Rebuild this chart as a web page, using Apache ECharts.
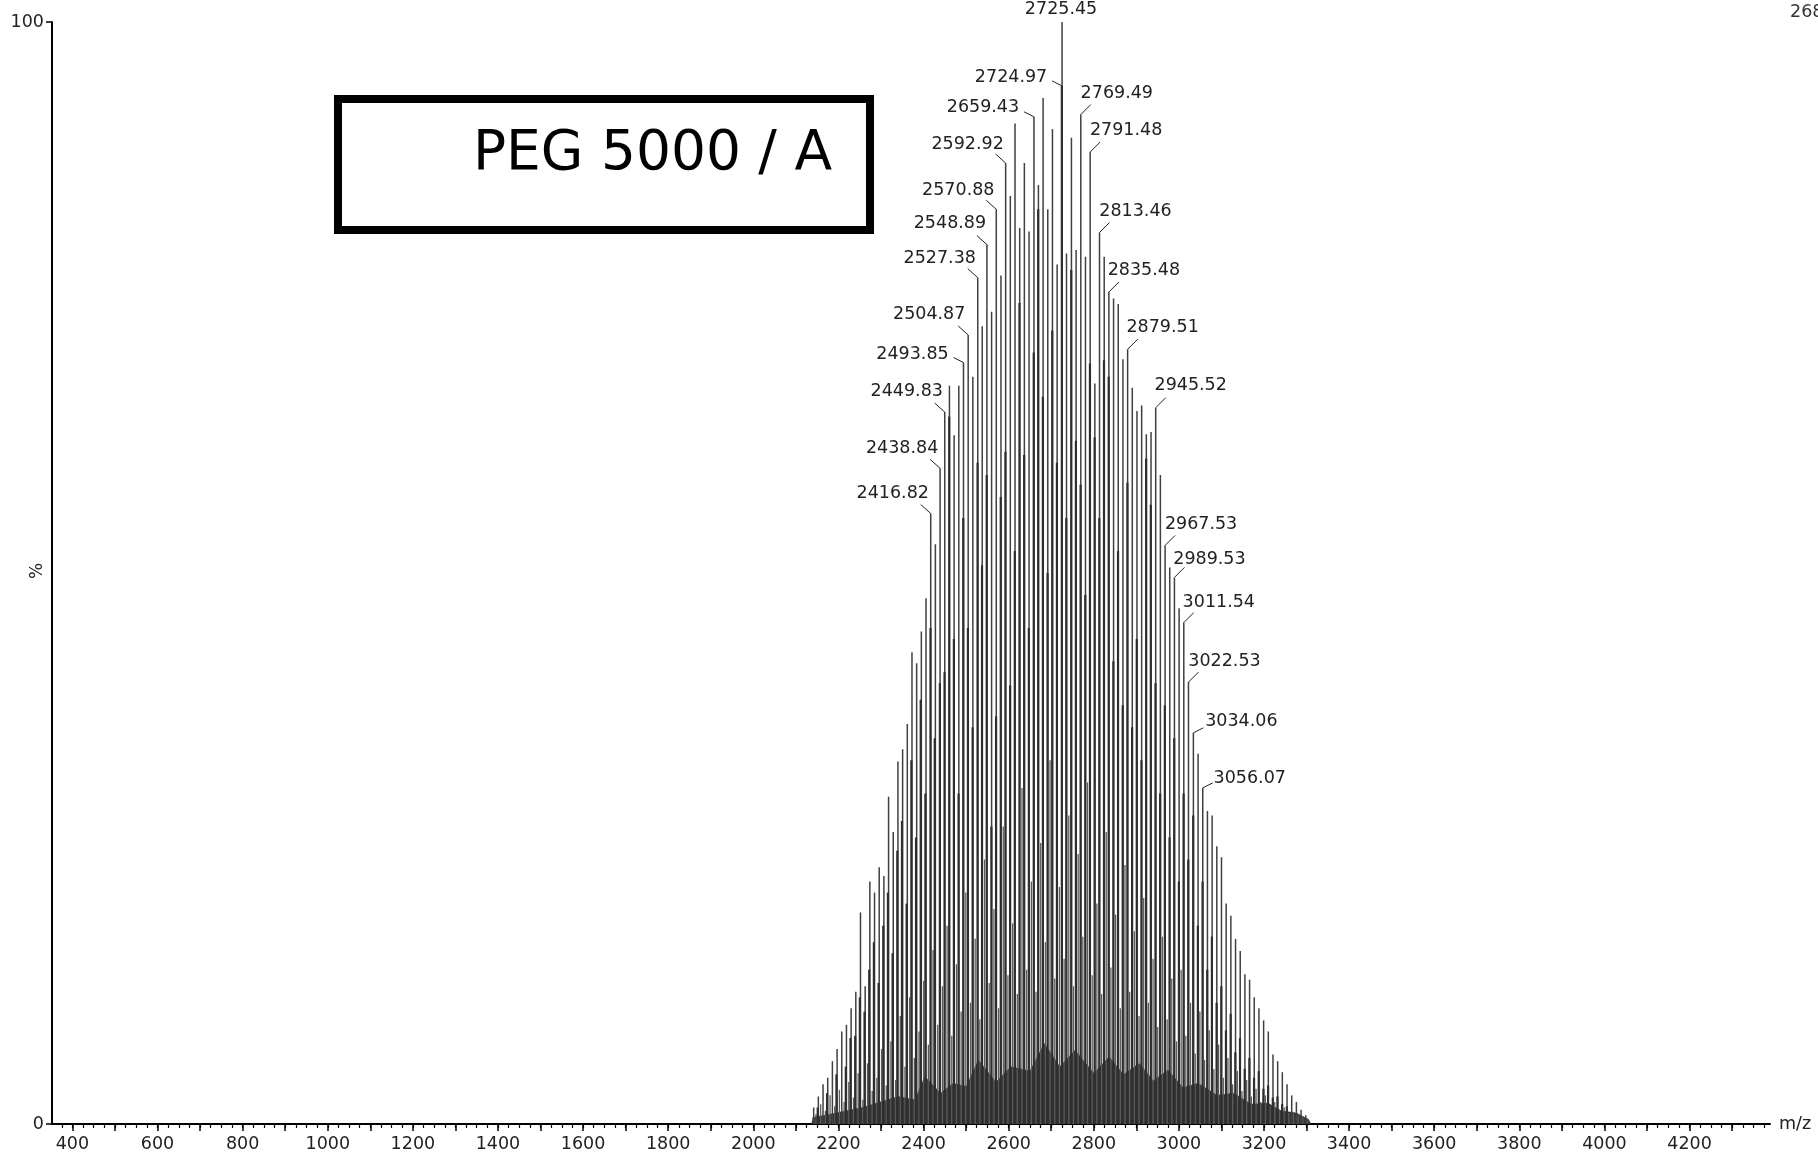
<!DOCTYPE html>
<html>
<head>
<meta charset="utf-8">
<title>PEG 5000 / A</title>
<script src="https://cdn.jsdelivr.net/npm/echarts@6.0.0/dist/echarts.min.js"></script>
<style>
html, body { margin: 0; padding: 0; background: #fff; }
#chart { width: 1818px; height: 1157px; }
</style>
</head>
<body>
<div id="chart"></div>
<script>
// tall peaks, two interleaved series 11 apart
const peakMz = [
  2141.8, 2152.8, 2163.8, 2174.8, 2185.8, 2196.8, 2207.8, 2218.8, 2229.8, 2240.8,
  2251.8, 2262.8, 2273.8, 2284.8, 2295.8, 2306.8, 2317.8, 2328.8, 2339.8, 2350.8,
  2361.8, 2372.8, 2383.8, 2394.8, 2405.8, 2416.82, 2427.8, 2438.84, 2449.83, 2460.85,
  2471.84, 2482.86, 2493.85, 2504.87, 2515.86, 2527.38, 2537.9, 2548.89, 2559.9, 2570.88,
  2581.9, 2592.92, 2603.9, 2614.9, 2625.9, 2636.9, 2647.9, 2659.43, 2669.9, 2680.9,
  2691.9, 2702.9, 2713.9, 2725.45, 2735.9, 2747.5, 2758.5, 2769.49, 2780.5, 2791.48,
  2802.5, 2813.46, 2824.5, 2835.48, 2846.5, 2857.5, 2868.5, 2879.51, 2890.5, 2901.5,
  2912.5, 2923.5, 2934.5, 2945.52, 2956.5, 2967.53, 2978.5, 2989.53, 3000.5, 3011.54,
  3022.53, 3034.06, 3045.1, 3056.07, 3067.1, 3078.1, 3089.1, 3100.1, 3111.1, 3122.1,
  3133.1, 3144.1, 3155.1, 3166.1, 3177.1, 3188.1, 3199.1, 3210.1, 3221.1, 3232.1,
  3243.1, 3254.1, 3265.1, 3276.1, 3287.1, 3298.1
]
const peakPct = [
  1.5, 2.5, 3.6, 4.2, 5.7, 6.8, 8.4, 9.0, 10.5, 12.0,
  19.2, 12.5, 22.0, 21.0, 23.3, 22.5, 29.7, 26.5, 32.9, 34.0,
  36.3, 42.8, 41.8, 44.7, 47.7, 55.4, 52.6, 59.5, 64.6, 67.0,
  62.5, 67.0, 69.1, 71.6, 67.8, 76.8, 72.4, 79.8, 73.7, 83.0,
  77.0, 87.2, 84.2, 90.8, 81.3, 87.2, 81.0, 91.4, 85.2, 93.1,
  83.0, 90.3, 78.0, 100, 79.0, 89.5, 79.3, 91.6, 78.7, 88.2,
  67.2, 80.9, 78.7, 75.5, 74.9, 74.4, 69.4, 70.3, 66.8, 64.7,
  65.2, 62.6, 62.8, 65.0, 58.9, 52.5, 50.5, 49.6, 46.8, 45.5,
  40.1, 35.5, 33.6, 30.5, 28.4, 28.0, 25.2, 24.2, 20.0, 18.9,
  16.8, 15.7, 13.6, 13.1, 11.5, 10.5, 9.4, 8.4, 6.3, 5.7,
  4.7, 3.6, 2.6, 2.0, 1.3, 0.8
]

// partner peaks sitting right beside the tall ones (drawn darker)
const pairMz = [
  2151.3, 2173.3, 2195.3, 2217.3, 2228.3, 2239.3, 2250.3, 2261.3, 2272.3, 2283.3,
  2294.3, 2305.3, 2316.3, 2327.3, 2338.3, 2349.3, 2360.3, 2371.3, 2382.3, 2393.3,
  2404.3, 2416.3, 2426.3, 2438.3, 2449.3, 2460.3, 2471.3, 2482.3, 2493.3, 2504.3,
  2515.3, 2526.9, 2537.4, 2548.4, 2559.4, 2570.4, 2581.4, 2592.4, 2603.4, 2614.4,
  2625.4, 2636.4, 2647.4, 2658.9, 2669.4, 2680.4, 2691.4, 2702.4, 2713.4, 2724.97,
  2735.4, 2747.0, 2758.0, 2769.0, 2780.0, 2791.0, 2802.0, 2813.0, 2824.0, 2835.0,
  2846.0, 2857.0, 2868.0, 2879.0, 2890.0, 2901.0, 2912.0, 2923.0, 2934.0, 2945.0,
  2956.0, 2967.0, 2978.0, 2989.0, 3000.0, 3011.0, 3022.0, 3033.6, 3044.6, 3055.6,
  3066.6, 3077.6, 3088.6, 3099.6, 3110.6, 3121.6, 3132.6, 3143.6, 3154.6, 3165.6,
  3176.6, 3187.6, 3198.6, 3209.6, 3220.6, 3231.6, 3242.6, 3253.6
]
const pairPct = [
  1.5, 2.8, 4.5, 5.2, 7.8, 8.0, 11.5, 10.2, 14.0, 16.5,
  12.8, 18.0, 21.0, 15.5, 24.8, 27.5, 20.0, 33.0, 26.0, 38.5,
  30.0, 45.0, 35.0, 40.0, 41.0, 64.2, 44.0, 30.0, 55.0, 45.0,
  36.0, 60.0, 50.7, 58.9, 27.0, 37.0, 56.9, 61.0, 39.8, 52.0,
  74.5, 60.7, 45.0, 70.0, 83.0, 66.0, 50.0, 72.0, 60.0, 94.2,
  55.0, 77.5, 62.0, 58.0, 48.0, 69.0, 62.3, 55.0, 69.3, 67.8,
  42.0, 52.0, 38.0, 58.2, 36.0, 44.0, 33.0, 60.4, 56.2, 40.0,
  30.0, 38.0, 26.0, 35.0, 22.0, 30.0, 24.0, 28.0, 18.0, 22.0,
  14.0, 17.0, 11.0, 12.5, 8.5, 10.0, 6.5, 7.8, 5.0, 6.0,
  4.2, 4.8, 3.2, 3.5, 2.4, 2.5, 1.8, 1.6
]

// small peaks half way between the tall ones
const smallMz = [
  2147.3, 2158.3, 2169.3, 2180.3, 2191.3, 2202.3, 2213.3, 2224.3, 2235.3, 2246.3,
  2257.3, 2268.3, 2279.3, 2290.3, 2301.3, 2312.3, 2323.3, 2334.3, 2345.3, 2356.3,
  2367.3, 2378.3, 2389.3, 2400.3, 2411.3, 2422.3, 2433.3, 2444.3, 2455.3, 2466.3,
  2477.3, 2488.3, 2499.3, 2510.3, 2521.3, 2532.3, 2543.3, 2554.3, 2565.3, 2576.3,
  2587.3, 2598.3, 2609.3, 2620.3, 2631.3, 2642.3, 2653.3, 2664.3, 2675.3, 2686.3,
  2697.3, 2708.3, 2719.3, 2730.3, 2741.3, 2752.3, 2763.3, 2774.3, 2785.3, 2796.3,
  2807.3, 2818.3, 2829.3, 2840.3, 2851.3, 2862.3, 2873.3, 2884.3, 2895.3, 2906.3,
  2917.3, 2928.3, 2939.3, 2950.3, 2961.3, 2972.3, 2983.3, 2994.3, 3005.3, 3016.3,
  3027.3, 3038.3, 3049.3, 3060.3, 3071.3, 3082.3, 3093.3, 3104.3, 3115.3, 3126.3,
  3137.3, 3148.3, 3159.3, 3170.3, 3181.3, 3192.3, 3203.3, 3214.3, 3225.3, 3236.3,
  3247.3, 3258.3, 3269.3, 3280.3, 3291.3, 3302.3
]
const smallPct = [
  0.9, 1.8, 1.2, 2.6, 1.6, 3.1, 2.0, 3.8, 2.4, 4.6,
  2.2, 5.5, 3.0, 4.2, 6.8, 3.5, 7.5, 4.0, 9.8, 5.2,
  11.5, 6.0, 8.4, 13.0, 7.2, 15.8, 9.0, 12.5, 18.0, 8.0,
  14.5, 10.2, 21.0, 11.0, 16.8, 9.5, 24.0, 12.8, 19.5, 10.5,
  27.0, 13.5, 18.2, 11.8, 30.5, 14.0, 22.0, 12.0, 25.5, 16.5,
  33.0, 13.2, 21.5, 15.0, 28.0, 12.5, 24.5, 17.0, 31.0, 13.5,
  20.0, 11.8, 26.5, 14.2, 19.0, 10.5, 23.5, 12.0, 17.5, 9.8,
  20.5, 11.0, 15.0, 8.8, 17.0, 9.5, 13.2, 7.5, 14.0, 8.0,
  11.0, 6.4, 10.2, 5.8, 8.5, 5.0, 7.2, 4.2, 6.0, 3.6,
  4.8, 3.0, 4.0, 2.5, 3.2, 2.0, 2.6, 1.6, 2.0, 1.3,
  1.5, 1.0, 1.1, 0.8, 0.7, 0.5
]

// dense low fill under everything
const baseMz = [2137, 2140, 2168, 2256, 2340, 2380, 2403, 2440, 2470, 2500, 2529, 2570, 2605, 2650, 2684, 2720, 2756, 2800, 2836, 2870, 2907, 2940, 2974, 3010, 3045, 3090, 3129, 3170, 3209, 3240, 3276, 3305, 3310]
const basePct = [0, 0.6, 0.8, 1.5, 2.5, 2.2, 4.3, 2.8, 3.7, 3.4, 5.8, 3.8, 5.2, 4.8, 7.3, 5.2, 6.7, 4.6, 6.1, 4.5, 5.5, 3.9, 4.9, 3.3, 3.7, 2.6, 2.8, 1.8, 1.9, 1.2, 1.0, 0.4, 0]

// annotated peaks
const labelMz = [2725.45, 2725.45, 2659.43, 2769.49, 2592.92, 2791.48, 2570.88, 2548.89, 2813.46, 2527.38, 2835.48, 2504.87, 2879.51, 2493.85, 2449.83, 2945.52, 2438.84, 2416.82, 2967.53, 2989.53, 3011.54, 3022.53, 3034.06, 3056.07]
const labelPct = [100, 94.2, 91.4, 91.6, 87.2, 88.2, 83.0, 79.8, 80.9, 76.8, 75.5, 71.6, 70.3, 69.1, 64.6, 65.0, 59.5, 55.4, 52.5, 49.6, 45.5, 40.1, 35.5, 30.5]
const labelText = ['2725.45', '2724.97', '2659.43', '2769.49', '2592.92', '2791.48', '2570.88', '2548.89', '2813.46', '2527.38', '2835.48', '2504.87', '2879.51', '2493.85', '2449.83', '2945.52', '2438.84', '2416.82', '2967.53', '2989.53', '3011.54', '3022.53', '3034.06', '3056.07']

const xTickLabels = [400, 600, 800, 1000, 1200, 1400, 1600, 1800, 2000, 2200, 2400, 2600, 2800, 3000, 3200, 3400, 3600, 3800, 4000, 4200]
const yTickLabels = [0, 100]

// text offset [dx, dy] and leader start [lx, ly] from the peak top, in px
const labelPlace = [
  [-1, -13, 0, 0], [-51, -8, -10, -5], [-51, -9, -10, -5], [36, -21, 10, -10],
  [-38, -19, -10, -9], [36, -22, 10, -10], [-38, -19, -10, -9], [-37, -21, -10, -9],
  [36, -21, 10, -10], [-38, -19, -10, -9], [35, -22, 10, -10], [-39, -21, -10, -9],
  [35, -22, 10, -10], [-51, -8, -10, -5], [-38, -21, -10, -9], [35, -22, 10, -10],
  [-38, -20, -10, -9], [-38, -20, -10, -9], [36, -21, 10, -10], [35, -18, 10, -10],
  [35, -20, 10, -10], [36, -21, 10, -10], [48, -11, 10, -5], [47, -9, 10, -5]
]

const majorTicks = []
for (let v = 400; v <= 4300; v += 100) majorTicks.push(v)
const minorTicks = []
for (let v = 375; v <= 4375; v += 25) minorTicks.push(v)

const pairUp = (xs, ys) => xs.map((x, i) => [x, ys[i]])

function stick (color, width) {
  return function (params, api) {
    const top = api.coord([api.value(0), api.value(1)])
    const foot = api.coord([api.value(0), 0])
    return {
      type: 'line',
      shape: { x1: top[0], y1: top[1], x2: foot[0], y2: foot[1] },
      style: { stroke: color, lineWidth: width }
    }
  }
}

function renderLabel (params, api) {
  const p = api.coord([api.value(0), api.value(1)])
  const place = labelPlace[params.dataIndex]
  const children = [{
    type: 'text',
    style: {
      text: labelText[params.dataIndex],
      x: p[0] + place[0],
      y: p[1] + place[1],
      align: 'center',
      verticalAlign: 'middle',
      font: '17.5px "DejaVu Sans"',
      fill: '#222'
    }
  }]
  if (place[2] !== 0) {
    children.push({
      type: 'line',
      shape: { x1: p[0] + place[2], y1: p[1] + place[3], x2: p[0], y2: p[1] },
      style: { stroke: '#222', lineWidth: 1 }
    })
  }
  return { type: 'group', children: children }
}

const chart = echarts.init(document.getElementById('chart'), null, { renderer: 'canvas' })
const axisFont = { fontFamily: 'DejaVu Sans', fontSize: 17.5, color: '#222' }
const plain = v => String(v)

chart.setOption({
  backgroundColor: '#fff',
  animation: false,
  grid: { left: 52, right: 48, top: 22, bottom: 33, containLabel: false, outerBoundsMode: 'none' },
  xAxis: [
    {
      type: 'value',
      min: 352,
      max: 4389,
      position: 'bottom',
      name: 'm/z',
      nameLocation: 'end',
      nameGap: 9,
      nameTextStyle: axisFont,
      axisLine: { lineStyle: { color: '#000', width: 2 } },
      axisTick: { show: true, inside: false, length: 7, customValues: majorTicks, lineStyle: { color: '#000', width: 1.5 } },
      axisLabel: { customValues: xTickLabels, margin: 11, formatter: plain, ...axisFont },
      splitLine: { show: false }
    },
    {
      type: 'value',
      min: 352,
      max: 4389,
      position: 'bottom',
      axisLine: { show: false },
      axisTick: { show: true, inside: false, length: 4, customValues: minorTicks, lineStyle: { color: '#000', width: 1.2 } },
      axisLabel: { show: false },
      splitLine: { show: false }
    }
  ],
  yAxis: {
    type: 'value',
    min: 0,
    max: 100,
    axisLine: { show: true, lineStyle: { color: '#000', width: 2 } },
    axisTick: { show: true, length: 6, customValues: yTickLabels, lineStyle: { color: '#000', width: 1.5 } },
    axisLabel: { customValues: yTickLabels, margin: 8, formatter: plain, ...axisFont },
    splitLine: { show: false }
  },
  graphic: [
    {
      type: 'rect',
      shape: { x: 338, y: 99, width: 532, height: 131 },
      style: { fill: 'none', stroke: '#000', lineWidth: 8 }
    },
    {
      type: 'text',
      x: 832,
      y: 155,
      style: { text: 'PEG 5000 / A', font: '55px "DejaVu Sans"', fill: '#000', align: 'right', verticalAlign: 'middle' }
    },
    {
      type: 'text',
      x: 1790,
      y: 3,
      style: { text: '268', font: '17.5px "DejaVu Sans"', fill: '#333', align: 'left', verticalAlign: 'top' }
    },
    {
      type: 'text',
      x: 38,
      y: 571,
      rotation: Math.PI / 2,
      style: { text: '%', font: '17px "DejaVu Sans"', fill: '#222', align: 'center', verticalAlign: 'middle' }
    }
  ],
  series: [
    {
      name: 'base',
      type: 'line',
      data: pairUp(baseMz, basePct),
      symbol: 'none',
      lineStyle: { width: 0.5, color: '#333' },
      areaStyle: { color: '#333', opacity: 1 },
      z: 1
    },
    {
      name: 'small',
      type: 'custom',
      renderItem: stick('#5a5a5a', 1.3),
      data: pairUp(smallMz, smallPct),
      z: 2
    },
    {
      name: 'peaks',
      type: 'custom',
      renderItem: stick('#404040', 1.5),
      data: pairUp(peakMz, peakPct),
      z: 3
    },
    {
      name: 'pairs',
      type: 'custom',
      renderItem: stick('#2e2e2e', 2.2),
      data: pairUp(pairMz, pairPct),
      z: 4
    },
    {
      name: 'labels',
      type: 'custom',
      renderItem: renderLabel,
      data: pairUp(labelMz, labelPct),
      z: 5
    }
  ]
})
</script>
</body>
</html>
